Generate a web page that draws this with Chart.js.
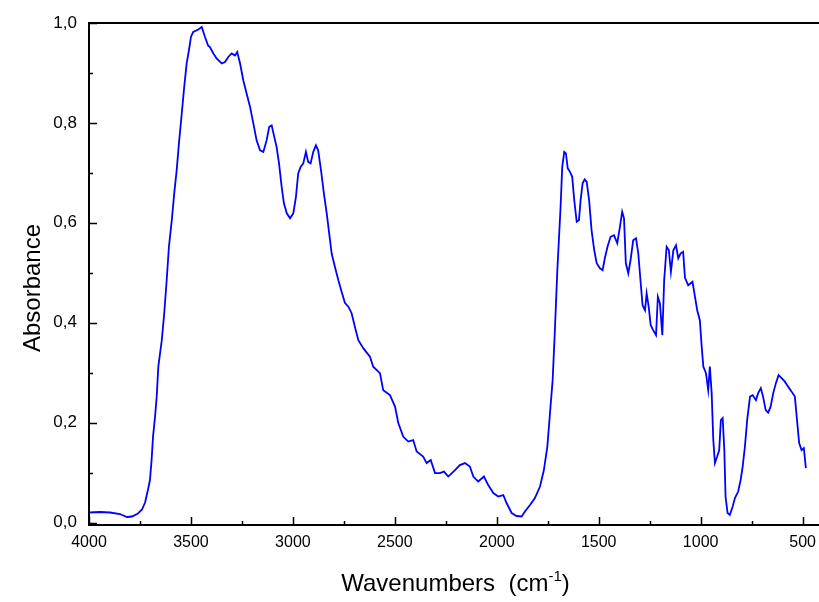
<!DOCTYPE html>
<html>
<head>
<meta charset="utf-8">
<title>IR spectrum</title>
<script src="https://cdn.jsdelivr.net/npm/chart.js@4.4.1/dist/chart.umd.min.js"></script>
<style>
    html, body { margin: 0; padding: 0; background: #fff; overflow: hidden; }
    #spectrum { display: block; }
</style>
</head>
<body>
<canvas id="spectrum" width="830" height="602"></canvas>
<script>
// values
const wavenumbers = [
    4000, 3946, 3897, 3848, 3814, 3789, 3760, 3740, 3725, 3711,
    3701, 3693, 3686, 3676, 3668, 3660, 3643, 3631, 3619, 3608,
    3594, 3582, 3570, 3559, 3545, 3533, 3521, 3510, 3500, 3489,
    3464, 3447, 3431, 3416, 3407, 3390, 3374, 3349, 3333, 3317,
    3300, 3284, 3273, 3259, 3243, 3227, 3210, 3194, 3178, 3161,
    3145, 3129, 3116, 3104, 3093, 3080, 3068, 3055, 3044, 3030,
    3014, 2998, 2985, 2974, 2962, 2949, 2936, 2925, 2913, 2900,
    2887, 2876, 2862, 2848, 2834, 2822, 2810, 2794, 2777, 2761,
    2745, 2728, 2712, 2696, 2679, 2655, 2622, 2606, 2573, 2557,
    2524, 2499, 2483, 2459, 2434, 2410, 2393, 2361, 2344, 2324,
    2303, 2279, 2259, 2238, 2205, 2181, 2156, 2132, 2115, 2091,
    2063, 2042, 2017, 1993, 1968, 1952, 1927, 1903, 1878, 1862,
    1837, 1813, 1788, 1769, 1752, 1739, 1726, 1715, 1703, 1687,
    1679, 1669, 1661, 1652, 1641, 1630, 1620, 1608, 1597, 1589,
    1579, 1569, 1559, 1547, 1535, 1522, 1510, 1494, 1481, 1470,
    1457, 1442, 1425, 1409, 1396, 1385, 1376, 1367, 1355, 1344,
    1331, 1317, 1306, 1294, 1285, 1273, 1265, 1255, 1245, 1233,
    1219, 1210, 1200, 1188, 1179, 1167, 1156, 1146, 1134, 1121,
    1110, 1098, 1086, 1077, 1061, 1040, 1028, 1017, 1004, 995,
    987, 974, 963, 955, 946, 938, 930, 919, 909, 901,
    892, 884, 878, 868, 857, 843, 832, 816, 804, 794,
    783, 772, 758, 745, 729, 718, 705, 694, 681, 669,
    657, 644, 631, 618, 603, 587, 571, 554, 538, 529,
    517, 505, 494, 484
];
const absorbance = [
    0.020, 0.021, 0.020, 0.017, 0.011, 0.012, 0.018, 0.026, 0.040, 0.065,
    0.085, 0.125, 0.172, 0.212, 0.252, 0.312, 0.365, 0.419, 0.485, 0.552,
    0.605, 0.659, 0.705, 0.759, 0.819, 0.872, 0.919, 0.945, 0.972, 0.982,
    0.987, 0.992, 0.972, 0.955, 0.952, 0.939, 0.929, 0.919, 0.922, 0.932,
    0.939, 0.935, 0.942, 0.919, 0.885, 0.859, 0.832, 0.799, 0.765, 0.745,
    0.742, 0.765, 0.792, 0.795, 0.775, 0.752, 0.719, 0.672, 0.639, 0.619,
    0.609, 0.619, 0.652, 0.699, 0.712, 0.719, 0.742, 0.722, 0.719, 0.742,
    0.755, 0.745, 0.705, 0.659, 0.619, 0.579, 0.539, 0.512, 0.485, 0.462,
    0.440, 0.432, 0.419, 0.392, 0.365, 0.349, 0.332, 0.312, 0.299, 0.265,
    0.255, 0.232, 0.199, 0.172, 0.162, 0.165, 0.142, 0.132, 0.119, 0.125,
    0.099, 0.099, 0.102, 0.092, 0.105, 0.115, 0.119, 0.112, 0.092, 0.082,
    0.092, 0.075, 0.059, 0.052, 0.055, 0.039, 0.019, 0.013, 0.012, 0.022,
    0.035, 0.049, 0.072, 0.105, 0.152, 0.219, 0.285, 0.385, 0.505, 0.632,
    0.712, 0.742, 0.739, 0.709, 0.702, 0.692, 0.645, 0.602, 0.605, 0.645,
    0.679, 0.687, 0.682, 0.645, 0.585, 0.545, 0.519, 0.509, 0.505, 0.529,
    0.552, 0.572, 0.575, 0.559, 0.592, 0.622, 0.609, 0.519, 0.499, 0.525,
    0.565, 0.569, 0.539, 0.479, 0.435, 0.425, 0.459, 0.432, 0.395, 0.385,
    0.375, 0.452, 0.439, 0.375, 0.485, 0.552, 0.545, 0.502, 0.545, 0.555,
    0.529, 0.539, 0.542, 0.490, 0.475, 0.482, 0.452, 0.425, 0.405, 0.352,
    0.312, 0.299, 0.265, 0.312, 0.259, 0.165, 0.119, 0.132, 0.145, 0.205,
    0.209, 0.145, 0.052, 0.019, 0.015, 0.032, 0.049, 0.062, 0.085, 0.112,
    0.152, 0.205, 0.252, 0.255, 0.245, 0.259, 0.269, 0.252, 0.225, 0.220,
    0.232, 0.259, 0.279, 0.295, 0.289, 0.282, 0.272, 0.262, 0.252, 0.212,
    0.159, 0.145, 0.149, 0.109
];
const xTicks = [4000, 3500, 3000, 2500, 2000, 1500, 1000, 500];
const xMinorTicks = [3750, 3250, 2750, 2250, 1750, 1250, 750];
const yTicks = [0, 0.2, 0.4, 0.6, 0.8, 1.0];
const yMinorTicks = [0.1, 0.3, 0.5, 0.7, 0.9];
const xTitle = 'Wavenumbers  (cm';
const xTitleSup = '-1';
const xTitleEnd = ')';
const yTitle = 'Absorbance';

const FONT = '"Liberation Sans", Arial, sans-serif';

// inward ticks, box frame and axis titles
const frameAndTitles = {
    id: 'frameAndTitles',
    afterDraw(chart) {
        const { ctx, chartArea: a, scales: { x, y } } = chart;
        ctx.save();
        ctx.strokeStyle = '#000';
        ctx.lineWidth = 2;
        ctx.strokeRect(a.left, a.top, a.right - a.left, a.bottom - a.top);

        ctx.lineWidth = 1.5;
        ctx.beginPath();
        const xTick = (v, len) => {
            const px = Math.round(x.getPixelForValue(v)) + 0.5;
            ctx.moveTo(px, a.bottom);
            ctx.lineTo(px, a.bottom - len);
        };
        const yTick = (v, len) => {
            const py = Math.round(y.getPixelForValue(v)) + 0.5;
            ctx.moveTo(a.left, py);
            ctx.lineTo(a.left + len, py);
        };
        xTicks.forEach(v => xTick(v, 8));
        xMinorTicks.forEach(v => xTick(v, 4));
        yTicks.forEach(v => yTick(v, 8));
        yMinorTicks.forEach(v => yTick(v, 4));
        ctx.stroke();

        ctx.fillStyle = '#000';
        // x title with superscript
        const bigFont = '24px ' + FONT;
        const supFont = '15px ' + FONT;
        ctx.font = bigFont;
        const w1 = ctx.measureText(xTitle).width;
        const w3 = ctx.measureText(xTitleEnd).width;
        ctx.font = supFont;
        const w2 = ctx.measureText(xTitleSup).width;
        let tx = 455.5 - (w1 + w2 + w3) / 2;
        const base = 591;
        ctx.textBaseline = 'alphabetic';
        ctx.textAlign = 'left';
        ctx.font = bigFont;
        ctx.fillText(xTitle, tx, base);
        tx += w1;
        ctx.font = supFont;
        ctx.fillText(xTitleSup, tx, base - 10);
        tx += w2;
        ctx.font = bigFont;
        ctx.fillText(xTitleEnd, tx, base);

        // y title
        ctx.translate(40, 288);
        ctx.rotate(-Math.PI / 2);
        ctx.textAlign = 'center';
        ctx.fillText(yTitle, 0, 0);
        ctx.restore();
    }
};

new Chart(document.getElementById('spectrum').getContext('2d'), {
    type: 'line',
    data: {
        datasets: [{
            data: wavenumbers.map((w, i) => ({ x: w, y: absorbance[i] })),
            borderColor: '#0000ff',
            borderWidth: 1.8,
            pointRadius: 0,
            tension: 0,
            fill: false
        }]
    },
    options: {
        responsive: false,
        animation: false,
        devicePixelRatio: 1,
        layout: { padding: { left: 0, right: 7, top: 23, bottom: 0 } },
        plugins: {
            legend: { display: false },
            tooltip: { enabled: false }
        },
        scales: {
            x: {
                type: 'linear',
                reverse: true,
                min: 400,
                max: 4000,
                afterBuildTicks: s => { s.ticks = xTicks.map(v => ({ value: v })); },
                afterFit: s => { s.height = 77; },
                grid: { display: false, drawTicks: false },
                border: { display: false },
                ticks: {
                    padding: 8,
                    color: '#000',
                    font: { family: FONT, size: 16 },
                    maxRotation: 0,
                    autoSkip: false,
                    callback: v => String(v)
                }
            },
            y: {
                min: -0.005,
                max: 1.0,
                afterBuildTicks: s => { s.ticks = yTicks.map(v => ({ value: v })); },
                afterFit: s => { s.width = 89; },
                grid: { display: false, drawTicks: false },
                border: { display: false },
                ticks: {
                    padding: 12,
                    color: '#000',
                    font: { family: FONT, size: 17 },
                    callback: v => v.toFixed(1).replace('.', ',')
                }
            }
        }
    },
    plugins: [frameAndTitles]
});
</script>
</body>
</html>
